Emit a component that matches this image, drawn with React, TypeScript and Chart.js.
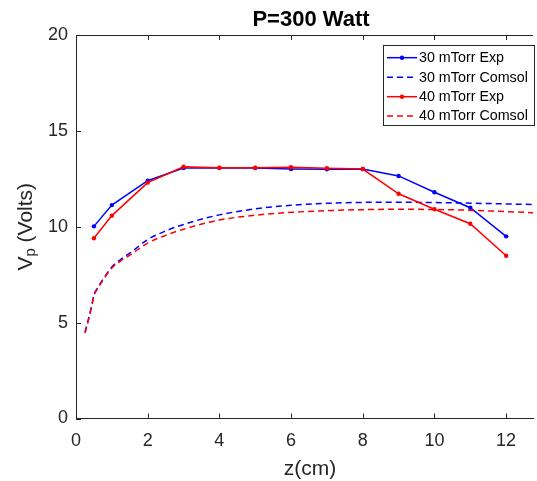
import React, { useEffect, useRef } from "react";
import { Chart, registerables } from "chart.js";

Chart.register(...registerables);

// ---- data ----
const titleText = "P=300 Watt";
const xLabelText = "z(cm)";
const yLabelMain = "V";
const yLabelSub = "p";
const yLabelRest = " (Volts)";

const xTickValues = [0, 2, 4, 6, 8, 10, 12];
const xTickLabels = ["0", "2", "4", "6", "8", "10", "12"];
const yTickValues = [0, 5, 10, 15, 20];
const yTickLabels = ["0", "5", "10", "15", "20"];

const expZ = [0.5, 1, 2, 3, 4, 5, 6, 7, 8, 9, 10, 11, 12];
const exp30 = [10.02, 11.13, 12.4, 13.06, 13.06, 13.06, 13.01, 13.0, 13.01, 12.65, 11.8, 10.99, 9.5];
const exp40 = [9.4, 10.58, 12.3, 13.13, 13.08, 13.08, 13.1, 13.05, 13.01, 11.72, 10.91, 10.16, 8.49];

const comsolZ = [0.25, 0.35, 0.45, 0.5, 0.6, 0.75, 1, 1.25, 1.5, 2, 2.5, 3, 4, 5, 6, 7, 8, 9, 10, 11, 12, 12.75];
const comsol30 = [4.5, 5.2, 6.0, 6.45, 6.8, 7.25, 7.9, 8.3, 8.62, 9.33, 9.78, 10.12, 10.62, 10.93, 11.12, 11.22, 11.27, 11.28, 11.26, 11.23, 11.19, 11.16];
const comsol40 = [4.45, 5.15, 5.95, 6.4, 6.75, 7.2, 7.85, 8.22, 8.52, 9.15, 9.55, 9.87, 10.35, 10.6, 10.75, 10.84, 10.89, 10.91, 10.9, 10.86, 10.79, 10.73];

const seriesLabels = ["30 mTorr Exp", "30 mTorr Comsol", "40 mTorr Exp", "40 mTorr Comsol"];

// ---- styles ----
const FONT = "'Liberation Sans', Arial, Helvetica, sans-serif";
const INK = "#262626";
const BLUE = "#0000ff";
const RED = "#ff0000";
const DASH = [6, 4];

const pts = (xs: number[], ys: number[]) => xs.map((x, i) => ({ x, y: ys[i] }));

const decorPlugin = {
  id: "decor",
  afterDatasetsDraw(chart: any) {
    const { ctx } = chart;
    // legend box
    const bx = 383.5, by = 45.5, bw = 151, bh = 80;
    ctx.save();
    ctx.fillStyle = "#ffffff";
    ctx.fillRect(bx, by, bw, bh);
    ctx.strokeStyle = INK;
    ctx.lineWidth = 1;
    ctx.strokeRect(bx, by, bw, bh);
    const rows = [57.7, 77.3, 96.7, 116];
    chart.data.datasets.forEach((ds: any, i: number) => {
      const y = rows[i];
      ctx.strokeStyle = ds.borderColor;
      ctx.lineWidth = 1.5;
      ctx.setLineDash(ds.borderDash || []);
      ctx.beginPath();
      ctx.moveTo(387, y);
      ctx.lineTo(417, y);
      ctx.stroke();
      ctx.setLineDash([]);
      if (ds.pointRadius > 0) {
        ctx.fillStyle = ds.borderColor;
        ctx.beginPath();
        ctx.arc(402, y, 2.2, 0, Math.PI * 2);
        ctx.fill();
      }
      ctx.fillStyle = "#000000";
      ctx.font = `14.3px ${FONT}`;
      ctx.textAlign = "left";
      ctx.textBaseline = "middle";
      ctx.fillText(ds.label, 419, y + 0.5);
    });
    ctx.restore();
  },
  afterDraw(chart: any) {
    const { ctx, chartArea: a, scales } = chart;
    const xs = scales.x, ys = scales.y;
    ctx.save();
    ctx.strokeStyle = INK;
    ctx.lineWidth = 1;
    // top border
    ctx.beginPath();
    ctx.moveTo(a.left, a.top + 0.5);
    ctx.lineTo(a.right, a.top + 0.5);
    ctx.stroke();
    // inward ticks
    ctx.beginPath();
    xs.ticks.forEach((t: any) => {
      const px = Math.round(xs.getPixelForValue(t.value)) + 0.5;
      ctx.moveTo(px, a.bottom);
      ctx.lineTo(px, a.bottom - 5);
      ctx.moveTo(px, a.top);
      ctx.lineTo(px, a.top + 5);
    });
    ys.ticks.forEach((t: any) => {
      const py = Math.round(ys.getPixelForValue(t.value)) + 0.5;
      ctx.moveTo(a.left, py);
      ctx.lineTo(a.left + 5, py);
    });
    ctx.stroke();

    // title
    ctx.fillStyle = "#000000";
    ctx.font = `bold 22px ${FONT}`;
    ctx.textAlign = "center";
    ctx.textBaseline = "alphabetic";
    ctx.fillText(titleText, 311, 26);

    // x label
    ctx.fillStyle = INK;
    ctx.font = `21px ${FONT}`;
    ctx.fillText(xLabelText, 310, 475);

    // y label (rotated, with subscript)
    const mainFont = `21px ${FONT}`;
    const subFont = `15px ${FONT}`;
    ctx.font = mainFont;
    const wV = ctx.measureText(yLabelMain).width;
    const wR = ctx.measureText(yLabelRest).width;
    ctx.font = subFont;
    const wP = ctx.measureText(yLabelSub).width;
    const total = wV + wP + wR;
    ctx.translate(31.5, (a.top + a.bottom) / 2);
    ctx.rotate(-Math.PI / 2);
    ctx.textAlign = "left";
    let x0 = -total / 2;
    ctx.font = mainFont;
    ctx.fillText(yLabelMain, x0, 0);
    x0 += wV;
    ctx.font = subFont;
    ctx.fillText(yLabelSub, x0, 3.5);
    x0 += wP;
    ctx.font = mainFont;
    ctx.fillText(yLabelRest, x0, 0);
    ctx.restore();
  },
};

export default function App() {
  const ref = useRef<HTMLCanvasElement | null>(null);
  useEffect(() => {
    if (!ref.current) return;
    const tickFont = { family: FONT, size: 18 };
    const chart = new Chart(ref.current, {
      type: "line",
      data: {
        datasets: [
          {
            label: seriesLabels[0],
            data: pts(expZ, exp30),
            borderColor: BLUE,
            backgroundColor: BLUE,
            borderWidth: 1.5,
            pointRadius: 2.2,
            pointBackgroundColor: BLUE,
            pointBorderWidth: 0,
            order: 3,
          },
          {
            label: seriesLabels[1],
            data: pts(comsolZ, comsol30),
            borderColor: BLUE,
            backgroundColor: BLUE,
            borderWidth: 1.5,
            borderDash: DASH,
            pointRadius: 0,
            cubicInterpolationMode: "monotone",
            order: 4,
          },
          {
            label: seriesLabels[2],
            data: pts(expZ, exp40),
            borderColor: RED,
            backgroundColor: RED,
            borderWidth: 1.5,
            pointRadius: 2.2,
            pointBackgroundColor: RED,
            pointBorderWidth: 0,
            order: 1,
          },
          {
            label: seriesLabels[3],
            data: pts(comsolZ, comsol40),
            borderColor: RED,
            backgroundColor: RED,
            borderWidth: 1.5,
            borderDash: DASH,
            pointRadius: 0,
            cubicInterpolationMode: "monotone",
            order: 2,
          },
        ] as any,
      },
      options: {
        responsive: false,
        animation: false,
        layout: { padding: { top: 35, left: 0, right: 0, bottom: 0 } },
        plugins: {
          legend: { display: false },
          tooltip: { enabled: false },
          title: { display: false },
        },
        scales: {
          x: {
            type: "linear",
            min: 0,
            max: 12.75,
            grid: { display: false, drawTicks: false },
            border: { display: true, color: INK, width: 1 },
            ticks: {
              font: tickFont,
              color: INK,
              padding: 12,
              maxRotation: 0,
              callback: (_v: any, i: number) => xTickLabels[i],
            },
            afterBuildTicks: (s: any) => {
              s.ticks = xTickValues.map((v) => ({ value: v }));
            },
            afterFit: (s: any) => {
              s.height = 62.5;
            },
          },
          y: {
            type: "linear",
            min: 0,
            max: 20,
            grid: { display: false, drawTicks: false },
            border: { display: true, color: INK, width: 1 },
            ticks: {
              font: tickFont,
              color: INK,
              padding: 8,
              callback: (_v: any, i: number) => yTickLabels[i],
            },
            afterBuildTicks: (s: any) => {
              s.ticks = yTickValues.map((v) => ({ value: v }));
            },
            afterFit: (s: any) => {
              s.width = 76;
            },
          },
        },
      } as any,
      plugins: [decorPlugin],
    });
    return () => chart.destroy();
  }, []);
  return (
    <div style={{ position: "fixed", left: 0, top: 0, width: 537, height: 481, background: "#fff" }}>
      <canvas ref={ref} width={537} height={481} style={{ display: "block" }} />
    </div>
  );
}
